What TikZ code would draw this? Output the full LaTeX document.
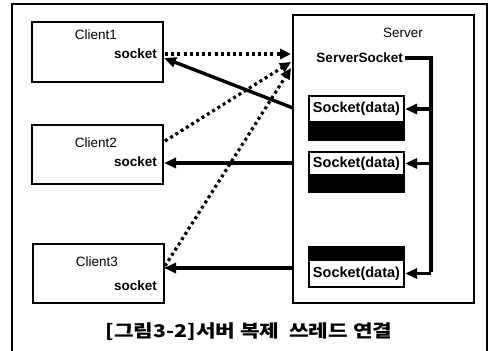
\documentclass[tikz,border=0pt]{standalone}
\usepackage{fontspec}
\setmainfont{Liberation Sans}
\newfontfamily\krfont{Noto Sans CJK KR}[FakeStretch=1.22]
\usetikzlibrary{arrows.meta}
\begin{document}
\begin{tikzpicture}[x=1pt,y=-1pt,
  box/.style={draw, line width=1.4pt, inner sep=0pt},
  lbl/.style={font=\fontsize{13.5}{15}\selectfont, inner sep=0pt},
  blbl/.style={font=\fontsize{13.5}{15}\selectfont\bfseries, inner sep=0pt},
  sdw/.style={draw, line width=2.2pt, fill=white, minimum width=95pt, inner sep=0pt, font=\fontsize{14.5}{16}\selectfont\bfseries},
  sdb/.style={draw, line width=2.2pt, fill=black, minimum width=95pt, inner sep=0pt},
  solidarrow/.style={line width=3.4pt, -{Triangle[length=12pt,width=10pt]}},
  dotarrow/.style={line width=3.2pt, dash pattern=on 3pt off 3.2pt, -{Triangle[length=11pt,width=10pt]}},
  thickline/.style={line width=3.2pt},
]
\useasboundingbox (0,0) rectangle (488,351);
% outer frame
\draw[line width=1.4pt] (12,351) -- (12,4) -- (487,4) -- (487,351);

% clients
\node[box, minimum width=131pt, minimum height=60pt] (c1) at (97.5,52) {};
\node[lbl] (c1t) at (96,35) {Client1};
\node[blbl, anchor=east] (c1s) at (157,54) {socket};
\node[box, minimum width=131pt, minimum height=59pt] (c2) at (97.5,154.5) {};
\node[lbl] (c2t) at (96,143) {Client2};
\node[blbl, anchor=east] (c2s) at (157,162) {socket};
\node[box, minimum width=131pt, minimum height=59pt] (c3) at (98.5,273.5) {};
\node[lbl] (c3t) at (97,262) {Client3};
\node[blbl, anchor=east] (c3s) at (157,286) {socket};

% server
\node[box, minimum width=181pt, minimum height=288pt] (srv) at (383.5,159) {};
\node[lbl] (srvt) at (403,33) {Server};
\node[blbl, anchor=east] (ss) at (403,58) {ServerSocket};

% socket(data) boxes
\node[sdw, minimum height=26pt] (sd1w) at (356.5,109) {Socket(data)};
\node[sdb, minimum height=18pt] (sd1b) at (356.5,131) {};
\node[sdw, minimum height=23pt] (sd2w) at (356.5,163.5) {Socket(data)};
\node[sdb, minimum height=17pt] (sd2b) at (356.5,183.5) {};
\node[sdb, minimum height=13pt] (sd3b) at (356.5,253.5) {};
\node[sdw, minimum height=27pt] (sd3w) at (356.5,273.5) {Socket(data)};

% ServerSocket distribution line
\coordinate (corner) at (431,58);
\coordinate (j1) at (431,109);
\coordinate (j2) at (431,163.5);
\coordinate (j3) at (431,273.5);
\draw[thickline] ([xshift=2pt]ss.east) -- (corner) -- ([yshift=1.6pt]j3);
\draw[solidarrow] (j1) -- (sd1w.east);
\draw[solidarrow] (j2) -- (sd2w.east);
\draw[solidarrow] (j3) -- (sd3w.east);

% server to clients (solid)
\coordinate (o1) at (293,108);
\coordinate (o2) at (293,163);
\coordinate (o3) at (293,268);
\coordinate (e1) at (164,58);
\coordinate (e2) at (164,163);
\coordinate (e3) at (164,268);
\draw[solidarrow] (o1) -- (e1);
\draw[solidarrow] (o2) -- (e2);
\draw[solidarrow] (o3) -- (e3);

% clients to server (dotted)
\coordinate (a1) at (165,54);
\coordinate (a2) at (165,141);
\coordinate (a3) at (165,266);
\coordinate (t1) at (291,54);
\coordinate (t2) at (291,62);
\coordinate (t3) at (291,68);
\draw[dotarrow] (a1) -- (t1);
\draw[dotarrow] (a2) -- (t2);
\draw[dotarrow] (a3) -- (t3);

% caption
\node[font=\krfont\bfseries\fontsize{17.5}{20}\selectfont, inner sep=0pt] (cap) at (249,332) {[그림3-2]서버 복제\ \ 쓰레드 연결};
\end{tikzpicture}
\end{document}
